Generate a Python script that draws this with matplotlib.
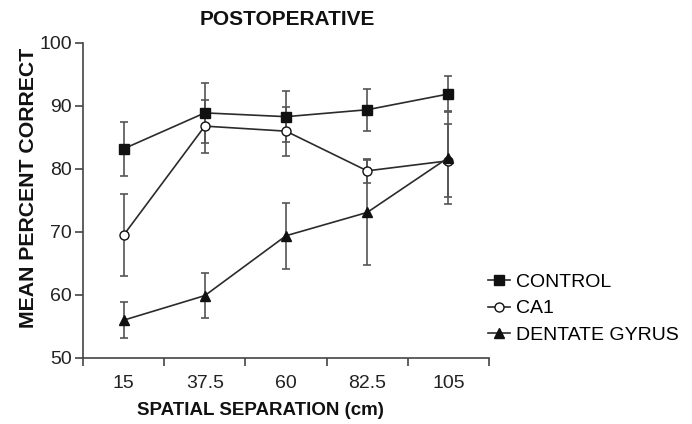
import matplotlib.pyplot as plt
import numpy as np

plt.rcParams['font.family'] = ['Liberation Sans', 'DejaVu Sans']

separations = ["15", "37.5", "60", "82.5", "105"]

control = [83.2, 88.9, 88.3, 89.4, 91.9]
control_err = [4.3, 4.8, 4.0, 3.3, 2.9]

ca1 = [69.5, 86.8, 86.0, 79.7, 81.3]
ca1_err = [6.5, 4.2, 3.9, 1.9, 5.8]

dentate = [56.0, 59.9, 69.4, 73.1, 81.8]
dentate_err = [2.9, 3.6, 5.2, 8.3, 7.4]

fig = plt.figure(figsize=(6.92, 4.24), dpi=100)
ax = fig.add_axes([0.12, 0.1557, 0.5866, 0.743])

x = np.arange(len(separations)) + 0.5
line_col = "#2b2b2b"
err_col = "#555555"

series = [
    (control, control_err, "s", "#111111", "CONTROL", 7.5),
    (ca1, ca1_err, "o", "white", "CA1", 6.5),
    (dentate, dentate_err, "^", "#111111", "DENTATE GYRUS", 7),
]

for vals, errs, mk, face, label, ms in series:
    ax.errorbar(x, vals, yerr=errs, fmt="none", ecolor=err_col, elinewidth=1.2,
                capsize=3, capthick=1.2, zorder=2)
    ax.plot(x, vals, color=line_col, linewidth=1.2, marker=mk, markersize=ms,
            markerfacecolor=face, markeredgecolor="#111111", markeredgewidth=1.0,
            label=label, zorder=3)

ax.set_xlim(0, 5)
ax.set_ylim(50, 100)
ax.set_yticks([50, 60, 70, 80, 90, 100])
ax.set_xticks(x)
ax.set_xticklabels(separations)
ax.set_xticks(np.arange(0, 6), minor=True)
ax.tick_params(axis="x", which="major", length=0, pad=12, labelsize=14, colors="#222222")
ax.tick_params(axis="x", which="minor", length=6, width=1.2, direction="out", color="#444444")
ax.tick_params(axis="y", length=6, width=1.2, direction="out", pad=2, labelsize=14, color="#444444", labelcolor="#222222")

for side in ["top", "right"]:
    ax.spines[side].set_visible(False)
for side in ["left", "bottom"]:
    ax.spines[side].set_linewidth(1.2)
    ax.spines[side].set_color("#444444")

fig.text(0.415, 0.955, "POSTOPERATIVE", ha="center", va="center", fontsize=15, fontweight="bold", color="#111111")
fig.text(0.376, 0.031, "SPATIAL SEPARATION (cm)", ha="center", va="center", fontsize=13.5, fontweight="bold", color="#111111")
fig.text(0.041, 0.557, "MEAN PERCENT CORRECT", ha="center", va="center", rotation=90, fontsize=15.3, fontweight="bold", color="#111111")

ax.legend(loc="upper left", bbox_to_anchor=(0.691, 0.378), bbox_transform=fig.transFigure,
          frameon=False, fontsize=14, handlelength=1.15, handletextpad=0.3,
          labelspacing=0.45, borderpad=0)

fig.savefig("out.png", dpi=100)
